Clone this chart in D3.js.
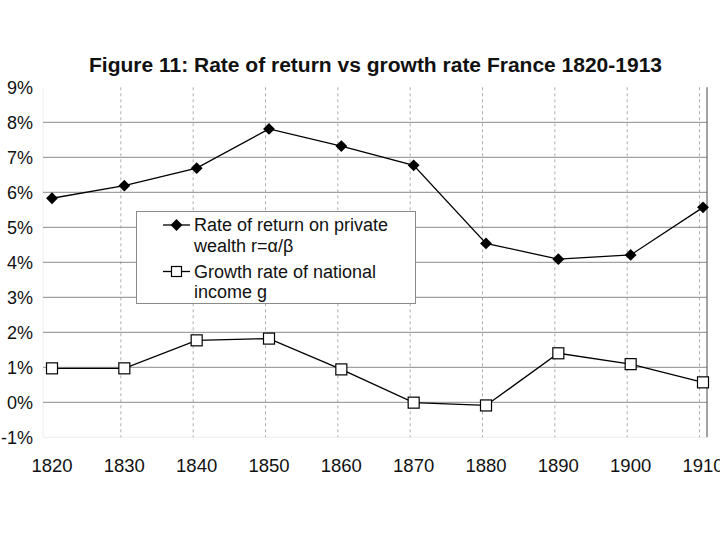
<!DOCTYPE html>
<html><head><meta charset="utf-8">
<script src="https://cdn.jsdelivr.net/npm/d3@7"></script>
<style>body{margin:0;background:#fff}svg{display:block}text{font-family:"Liberation Sans",Arial,sans-serif}</style>
</head><body>
<svg id="c" width="720" height="540"></svg>
<script>
const years = [1820,1830,1840,1850,1860,1870,1880,1890,1900,1910];
const rateOfReturn = [5.83,6.19,6.69,7.81,7.32,6.77,4.54,4.09,4.21,5.57];
const growthRate = [0.97,0.97,1.77,1.82,0.94,-0.01,-0.09,1.40,1.09,0.57];
const yTicks = [-1,0,1,2,3,4,5,6,7,8,9];
const titleText = "Figure 11: Rate of return vs growth rate France 1820-1913";
const legendLabels = [["Rate of return on private","wealth r=\u03b1/\u03b2"],["Growth rate of national","income g"]];

const svg = d3.select("#c");
const x = d3.scalePoint().domain(years).range([52,703]);
const y = d3.scaleLinear().domain([-1,9]).range([437.3,87.3]);
const left = 43, right = 707;

// title
svg.append("text").attr("x",89).attr("y",71.5).attr("font-size",19.5).attr("font-weight","bold")
  .attr("textLength",573).attr("lengthAdjust","spacingAndGlyphs")
  .attr("fill","#111").text(titleText);

// faint plot frame
svg.append("line").attr("x1",left).attr("x2",left).attr("y1",y(9)).attr("y2",y(-1)).attr("stroke","#eee");
svg.append("line").attr("x1",left).attr("x2",right).attr("y1",y(-1)).attr("y2",y(-1)).attr("stroke","#eee");

// horizontal gridlines
svg.append("g").selectAll("line").data(yTicks.filter(d=>d>=0&&d<=8)).join("line")
  .attr("x1",left).attr("x2",right).attr("y1",d=>y(d)).attr("y2",d=>y(d))
  .attr("stroke","#8a8a8a").attr("stroke-width",1);

// vertical dashed gridlines
svg.append("g").selectAll("line").data(years.slice(1)).join("line")
  .attr("x1",d=>x(d)-3.5).attr("x2",d=>x(d)-3.5).attr("y1",y(9)).attr("y2",y(-1))
  .attr("stroke","#999").attr("stroke-width",0.8).attr("stroke-dasharray","3,3");

// right border
svg.append("line").attr("x1",right).attr("x2",right).attr("y1",y(9)).attr("y2",y(-1)).attr("stroke","#666").attr("stroke-width",1.2);

// y axis labels
svg.append("g").selectAll("text").data(yTicks).join("text")
  .attr("x",33).attr("y",d=>y(d)).attr("dy","0.35em").attr("text-anchor","end")
  .attr("font-size",18).attr("fill","#111").text(d=>d+"%");

// x axis labels
svg.append("g").selectAll("text").data(years).join("text")
  .attr("x",d=>x(d)).attr("y",471.5).attr("text-anchor","middle")
  .attr("font-size",18.5).attr("fill","#111").text(d=>d);

// legend
const lg = svg.append("g");
lg.append("rect").attr("x",136.5).attr("y",211.5).attr("width",279).attr("height",92)
  .attr("fill","#fff").attr("stroke","#8a8a8a");

const line = d3.line().x((d,i)=>x(years[i])).y(d=>y(d));
const diamondPath = d3.symbol().type(d3.symbolSquare).size(70)();

// series r
svg.append("path").datum(rateOfReturn).attr("d",line).attr("fill","none").attr("stroke","#000").attr("stroke-width",1.3);
svg.append("g").selectAll("path").data(rateOfReturn).join("path")
  .attr("transform",(d,i)=>`translate(${x(years[i])},${y(d)}) rotate(45)`)
  .attr("d",diamondPath).attr("fill","#000");

// series g
svg.append("path").datum(growthRate).attr("d",line).attr("fill","none").attr("stroke","#000").attr("stroke-width",1.3);
svg.append("g").selectAll("rect").data(growthRate).join("rect")
  .attr("x",(d,i)=>x(years[i])-5.5).attr("y",d=>y(d)-5.5).attr("width",11).attr("height",11)
  .attr("fill","#fff").attr("stroke","#000").attr("stroke-width",1.2);

// legend entries
const entries = [{ty:225,mark:"diamond"},{ty:271.5,mark:"square"}];
entries.forEach((e,k)=>{
  lg.append("line").attr("x1",163).attr("x2",190).attr("y1",e.ty).attr("y2",e.ty).attr("stroke","#000").attr("stroke-width",1.3);
  if(e.mark==="diamond"){
    lg.append("path").attr("transform",`translate(176.5,${e.ty}) rotate(45)`).attr("d",diamondPath).attr("fill","#000");
  } else {
    lg.append("rect").attr("x",171.5).attr("y",e.ty-5).attr("width",10).attr("height",10).attr("fill","#fff").attr("stroke","#000").attr("stroke-width",1.2);
  }
  legendLabels[k].forEach((t,j)=>{
    lg.append("text").attr("x",194).attr("y",e.ty+6+j*20.5).attr("font-size",18).attr("fill","#111").text(t);
  });
});
</script>
</body></html>
